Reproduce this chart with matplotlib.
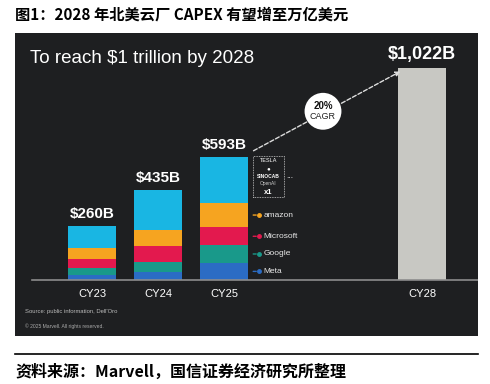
import numpy as np
import matplotlib.pyplot as plt
from matplotlib.patches import Rectangle

plt.rcParams['font.family'] = ['Liberation Sans', 'DejaVu Sans']

# data
years = ["CY23", "CY24", "CY25", "CY28"]
xpos = [0, 1, 2, 5]
totals = [260, 435, 593, 1022]
stack_years = ["CY23", "CY24", "CY25"]
meta = [26, 41, 84]
google = [34, 46, 84]
microsoft = [40, 79, 87]
amazon = [53, 77, 118]
others = [107, 192, 220]
seg_names = ["Meta", "Google", "Microsoft", "amazon", "others"]
seg_colors = ["#2b6cc4", "#19998a", "#e3194e", "#f6a420", "#19b6e3"]
cagr = "20%"

bg = "#1e1f21"
fig = plt.figure(figsize=(4.9, 3.84), dpi=100)
fig.patch.set_facecolor("white")

# dark panel axes, pixel geometry 15..478 x 33..336
ax = fig.add_axes([15 / 490, 48 / 384, 463 / 490, 303 / 384])
ax.set_facecolor(bg)
ax.set_xlim((15 - 92) / 66, (478 - 92) / 66)
ax.set_ylim(-270, 1193)
for s in ax.spines.values():
    s.set_visible(False)
ax.set_xticks([])
ax.set_yticks([])

# stacked bars
bottom = np.zeros(3)
for vals, col in zip([meta, google, microsoft, amazon, others], seg_colors):
    ax.bar(xpos[:3], vals, bottom=bottom, width=0.73, color=col, zorder=2)
    bottom += np.array(vals)
ax.bar(xpos[3], totals[3], width=0.73, color="#c8c8c3", zorder=2)

# baseline
ax.plot([-0.91, 5.85], [0, 0], color="#8c8c8c", lw=1.2, zorder=3)

# value labels
for x, t in zip(xpos[:3], totals[:3]):
    ax.text(x, t + 25, "$%dB" % t, color="white", fontsize=11, fontweight="bold",
            ha="center", va="bottom")
ax.text(xpos[3], totals[3] + 28, "${:,}B".format(totals[3]), color="white",
        fontsize=13, fontweight="bold", ha="center", va="bottom")

# category labels
for x, y in zip(xpos, years):
    ax.text(x, -68, y, color="white", fontsize=8, ha="center", va="center")

# title inside panel
ax.text(0.033, 0.915, "To reach $1 trillion by 2028", transform=ax.transAxes,
        color="white", fontsize=13.5, ha="left", va="center")

# CAGR arrow
ax.annotate("", xy=(4.71, 1014), xytext=(2.41, 618),
            arrowprops=dict(arrowstyle="-|>", color="#dddddd", lw=1,
                            linestyle=(0, (3, 1.5)), mutation_scale=7))
ax.text(3.5, 818, cagr, color="#111111", fontsize=7, fontweight="bold",
        ha="center", va="bottom", zorder=6)
ax.text(3.5, 812, "CAGR", color="#222222", fontsize=6.5, ha="center", va="top",
        zorder=6)
ax.text(3.5, 815, " ", fontsize=13, ha="center", va="center", zorder=5,
        bbox=dict(boxstyle="circle,pad=0.55", fc="white", ec="none"))

# company legend
cum = np.cumsum([meta[2], google[2], microsoft[2], amazon[2]])
mids = cum - np.array([meta[2], google[2], microsoft[2], amazon[2]]) / 2
for name, col, m in zip(seg_names[:4], seg_colors[:4], mids):
    ax.annotate("", xy=(2.53, m), xytext=(2.40, m),
                arrowprops=dict(arrowstyle="-", color=col, lw=1))
    ax.plot(2.53, m, "o", color=col, ms=2.5, zorder=4)
    ax.text(2.6, m, name, color="#e8e8e8", fontsize=6, ha="left", va="center")

# other players box
ax.add_patch(Rectangle((2.44, 400), 0.47, 200, fill=False, ec="#cccccc", lw=0.6,
                       linestyle=(0, (1, 1)), zorder=3))
ax.text(2.675, 575, "TESLA", color="white", fontsize=4, ha="center", va="center")
ax.text(2.675, 537, "\u25cf", color="white", fontsize=4.5, ha="center", va="center")
ax.text(2.675, 500, "SINOCAB", color="white", fontsize=3.5, fontweight="bold",
        ha="center", va="center")
ax.text(2.675, 465, "OpenAI", color="#cccccc", fontsize=3.5, ha="center", va="center")
ax.text(2.675, 425, "x1", color="white", fontsize=5.5, fontweight="bold",
        ha="center", va="center")
ax.text(3.0, 500, "...", color="white", fontsize=6, ha="center", va="center")

# footnotes
ax.text(0.022, 0.082, "Source: public information, Dell'Oro", transform=ax.transAxes,
        color="#bbbbbb", fontsize=4.2, ha="left", va="center")
ax.text(0.022, 0.033, "\u00a9 2025 Marvell. All rights reserved.", transform=ax.transAxes,
        color="#aaaaaa", fontsize=3.6, ha="left", va="center")

# outer texts
cjk = ['Noto Sans CJK SC', 'DejaVu Sans']
fig.text(15 / 490, 1 - 15 / 384, "图1：2028 年北美云厂 CAPEX 有望增至万亿美元",
         family=cjk, fontsize=11, fontweight="bold", ha="left", va="center")
fig.add_artist(plt.Line2D([15 / 490, 478 / 490], [1 - 354 / 384, 1 - 354 / 384],
                          color="black", lw=1.2))
fig.text(15 / 490, 1 - 372 / 384, "资料来源：Marvell，国信证券经济研究所整理",
         family=cjk, fontsize=11.5, fontweight="bold", ha="left", va="center")

fig.savefig("out.png", dpi=100, facecolor="white")
